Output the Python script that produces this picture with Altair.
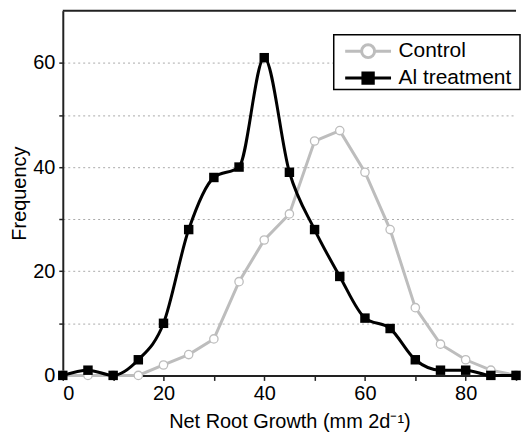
import altair as alt
import pandas as pd

x_vals = [0, 5, 10, 15, 20, 25, 30, 35, 40, 45, 50, 55, 60, 65, 70, 75, 80, 85, 90]
control = [0, 0, 0, 0, 2, 4, 7, 18, 26, 31, 45, 47, 39, 28, 13, 6, 3, 1, 0]
al_treatment = [0, 1, 0, 3, 10, 28, 38, 40, 61, 39, 28, 19, 11, 9, 3, 1, 1, 0, 0]
series_names = ["Control", "Al treatment"]
series_colors = ["#bdbdbd", "#000000"]
series_fills = ["#ffffff", "#000000"]

df_c = pd.DataFrame({"x": x_vals, "y": control, "series": series_names[0]})
df_a = pd.DataFrame({"x": x_vals, "y": al_treatment, "series": series_names[1]})
df = pd.concat([df_c, df_a], ignore_index=True)

FONT = "Liberation Sans"
W, H = 455, 366

xscale = alt.Scale(domain=[0, 90], nice=False, zero=False)
yscale = alt.Scale(domain=[0, 70], nice=False)

x_bottom = alt.X("x:Q", scale=xscale, title="Net Root Growth (mm 2d\u207b\u00b9)",
                 axis=alt.Axis(values=list(range(0, 91, 10)),
                               labelExpr="datum.value % 20 == 0 ? datum.label : ''",
                               grid=False, tickSize=5, tickColor="#222", tickWidth=1.5,
                               domainColor="#222", domainWidth=2, labelPadding=3,
                               titlePadding=8))
y_axis = alt.Y("y:Q", scale=yscale, title="Frequency",
               axis=alt.Axis(values=list(range(0, 61, 10)),
                             labelExpr="datum.value % 20 == 0 ? datum.label : ''",
                             grid=True, gridDash=[2, 3], gridColor="#aaaaaa", gridWidth=1,
                             tickSize=4, tickColor="#222", tickWidth=1.5,
                             domainColor="#222", domainWidth=2, labelPadding=4,
                             titlePadding=3))

base_c = alt.Chart(df_c)
base_a = alt.Chart(df_a)
one_row = alt.Chart(df_c.head(1))

# top frame line of the plot box
frame_top = one_row.mark_rule(color="#222", strokeWidth=2).encode(
    x=alt.value(0), x2=alt.value(W), y=alt.value(0))

# legend box
legend_box = one_row.mark_rect(fill="#ffffff", stroke="#000000", strokeWidth=1.5).encode(
    x=alt.value(272), x2=alt.value(459), y=alt.value(24), y2=alt.value(79))

line_c = base_c.mark_line(color=series_colors[0], strokeWidth=3).encode(x=x_bottom, y=y_axis)
pts_c = base_c.mark_point(shape="circle", filled=True, fill="#ffffff", stroke=series_colors[0],
                          strokeWidth=1.3, size=70, opacity=1).encode(x=x_bottom, y=y_axis)
line_a = base_a.mark_line(color=series_colors[1], strokeWidth=3, interpolate="monotone").encode(x=x_bottom, y=y_axis)
pts_a = base_a.mark_square(color=series_colors[1], size=90, opacity=1).encode(x=x_bottom, y=y_axis)

circle_path = "M-1.77,0H-0.5M0.5,0H1.77M0.5,0A0.5,0.5,0,1,1,-0.5,0A0.5,0.5,0,1,1,0.5,0Z"
square_path = "M-1.77,0H1.77M-0.4,-0.4H0.4V0.4H-0.4Z"

leg = alt.Legend(title=None, orient="none", legendX=292, legendY=26,
                 symbolSize=676, symbolStrokeWidth=3,
                 labelFont=FONT, labelFontSize=21, labelColor="#000",
                 labelOffset=16, rowPadding=0, padding=0,
                 symbolOpacity=1)

legend_layer = alt.Chart(df).mark_point(size=0, filled=True, strokeWidth=3).encode(
    x=x_bottom,
    y=y_axis,
    shape=alt.Shape("series:N", scale=alt.Scale(domain=series_names, range=[circle_path, square_path]), legend=leg),
    fill=alt.Fill("series:N", scale=alt.Scale(domain=series_names, range=series_fills), legend=leg),
    stroke=alt.Stroke("series:N", scale=alt.Scale(domain=series_names, range=series_colors), legend=leg),
)

chart = alt.layer(legend_box, legend_layer, frame_top, line_c, pts_c, line_a, pts_a).properties(
    width=W, height=H,
    padding={"left": 1, "top": 1, "right": 0, "bottom": 0},
).configure_view(stroke=None).configure_axis(
    labelFont=FONT, labelFontSize=20, labelColor="#000",
    titleFont=FONT, titleFontSize=20, titleColor="#000", titleFontWeight="normal",
)

chart.save("out.html", embed_options={"renderer": "svg", "actions": False})
